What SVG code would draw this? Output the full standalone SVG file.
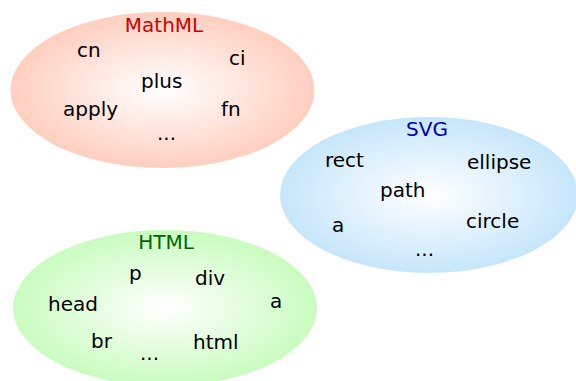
<svg xmlns="http://www.w3.org/2000/svg" width="576" height="381" viewBox="0 0 576 381">
<defs>
<radialGradient id="gMath" cx="0.5" cy="0.5" r="0.5"><stop offset="0" stop-color="#ffffff"/><stop offset="1" stop-color="#ffcfbf"/></radialGradient>
<radialGradient id="gSvg" cx="0.5" cy="0.5" r="0.5"><stop offset="0" stop-color="#ffffff"/><stop offset="1" stop-color="#c6e6fb"/></radialGradient>
<radialGradient id="gHtml" cx="0.5" cy="0.5" r="0.5"><stop offset="0" stop-color="#ffffff"/><stop offset="1" stop-color="#c9fcbf"/></radialGradient>
</defs>
<style>
text{font-family:"DejaVu Sans",sans-serif;font-size:20px;fill:#000}
.t{text-anchor:middle}
.m{fill:#cc0000}.s{fill:#0000b0}.h{fill:#006600}
</style>
<rect width="576" height="381" fill="#ffffff"/>
<g id="mathml">
<ellipse cx="162.5" cy="90" rx="152" ry="78" fill="url(#gMath)"/>
<text class="t m" x="164" y="32">MathML</text>
<text x="77" y="57">cn</text>
<text x="229" y="65">ci</text>
<text x="141" y="88">plus</text>
<text x="63" y="116">apply</text>
<text x="221" y="116">fn</text>
<text x="157" y="140">...</text>
</g>
<g id="svg">
<ellipse cx="429" cy="195" rx="149" ry="78" fill="url(#gSvg)"/>
<text class="t s" x="427" y="136">SVG</text>
<text x="325" y="167">rect</text>
<text x="467" y="169">ellipse</text>
<text x="380" y="197">path</text>
<text x="332" y="232">a</text>
<text x="466" y="228">circle</text>
<text x="415" y="256">...</text>
</g>
<g id="html">
<ellipse cx="165" cy="308" rx="152" ry="78" fill="url(#gHtml)"/>
<text class="t h" x="166" y="249">HTML</text>
<text x="129" y="280">p</text>
<text x="195" y="285">div</text>
<text x="48" y="311">head</text>
<text x="270" y="308">a</text>
<text x="91" y="348">br</text>
<text x="193" y="349">html</text>
<text x="140" y="360">...</text>
</g>
<g id="connectors"/>
</svg>
